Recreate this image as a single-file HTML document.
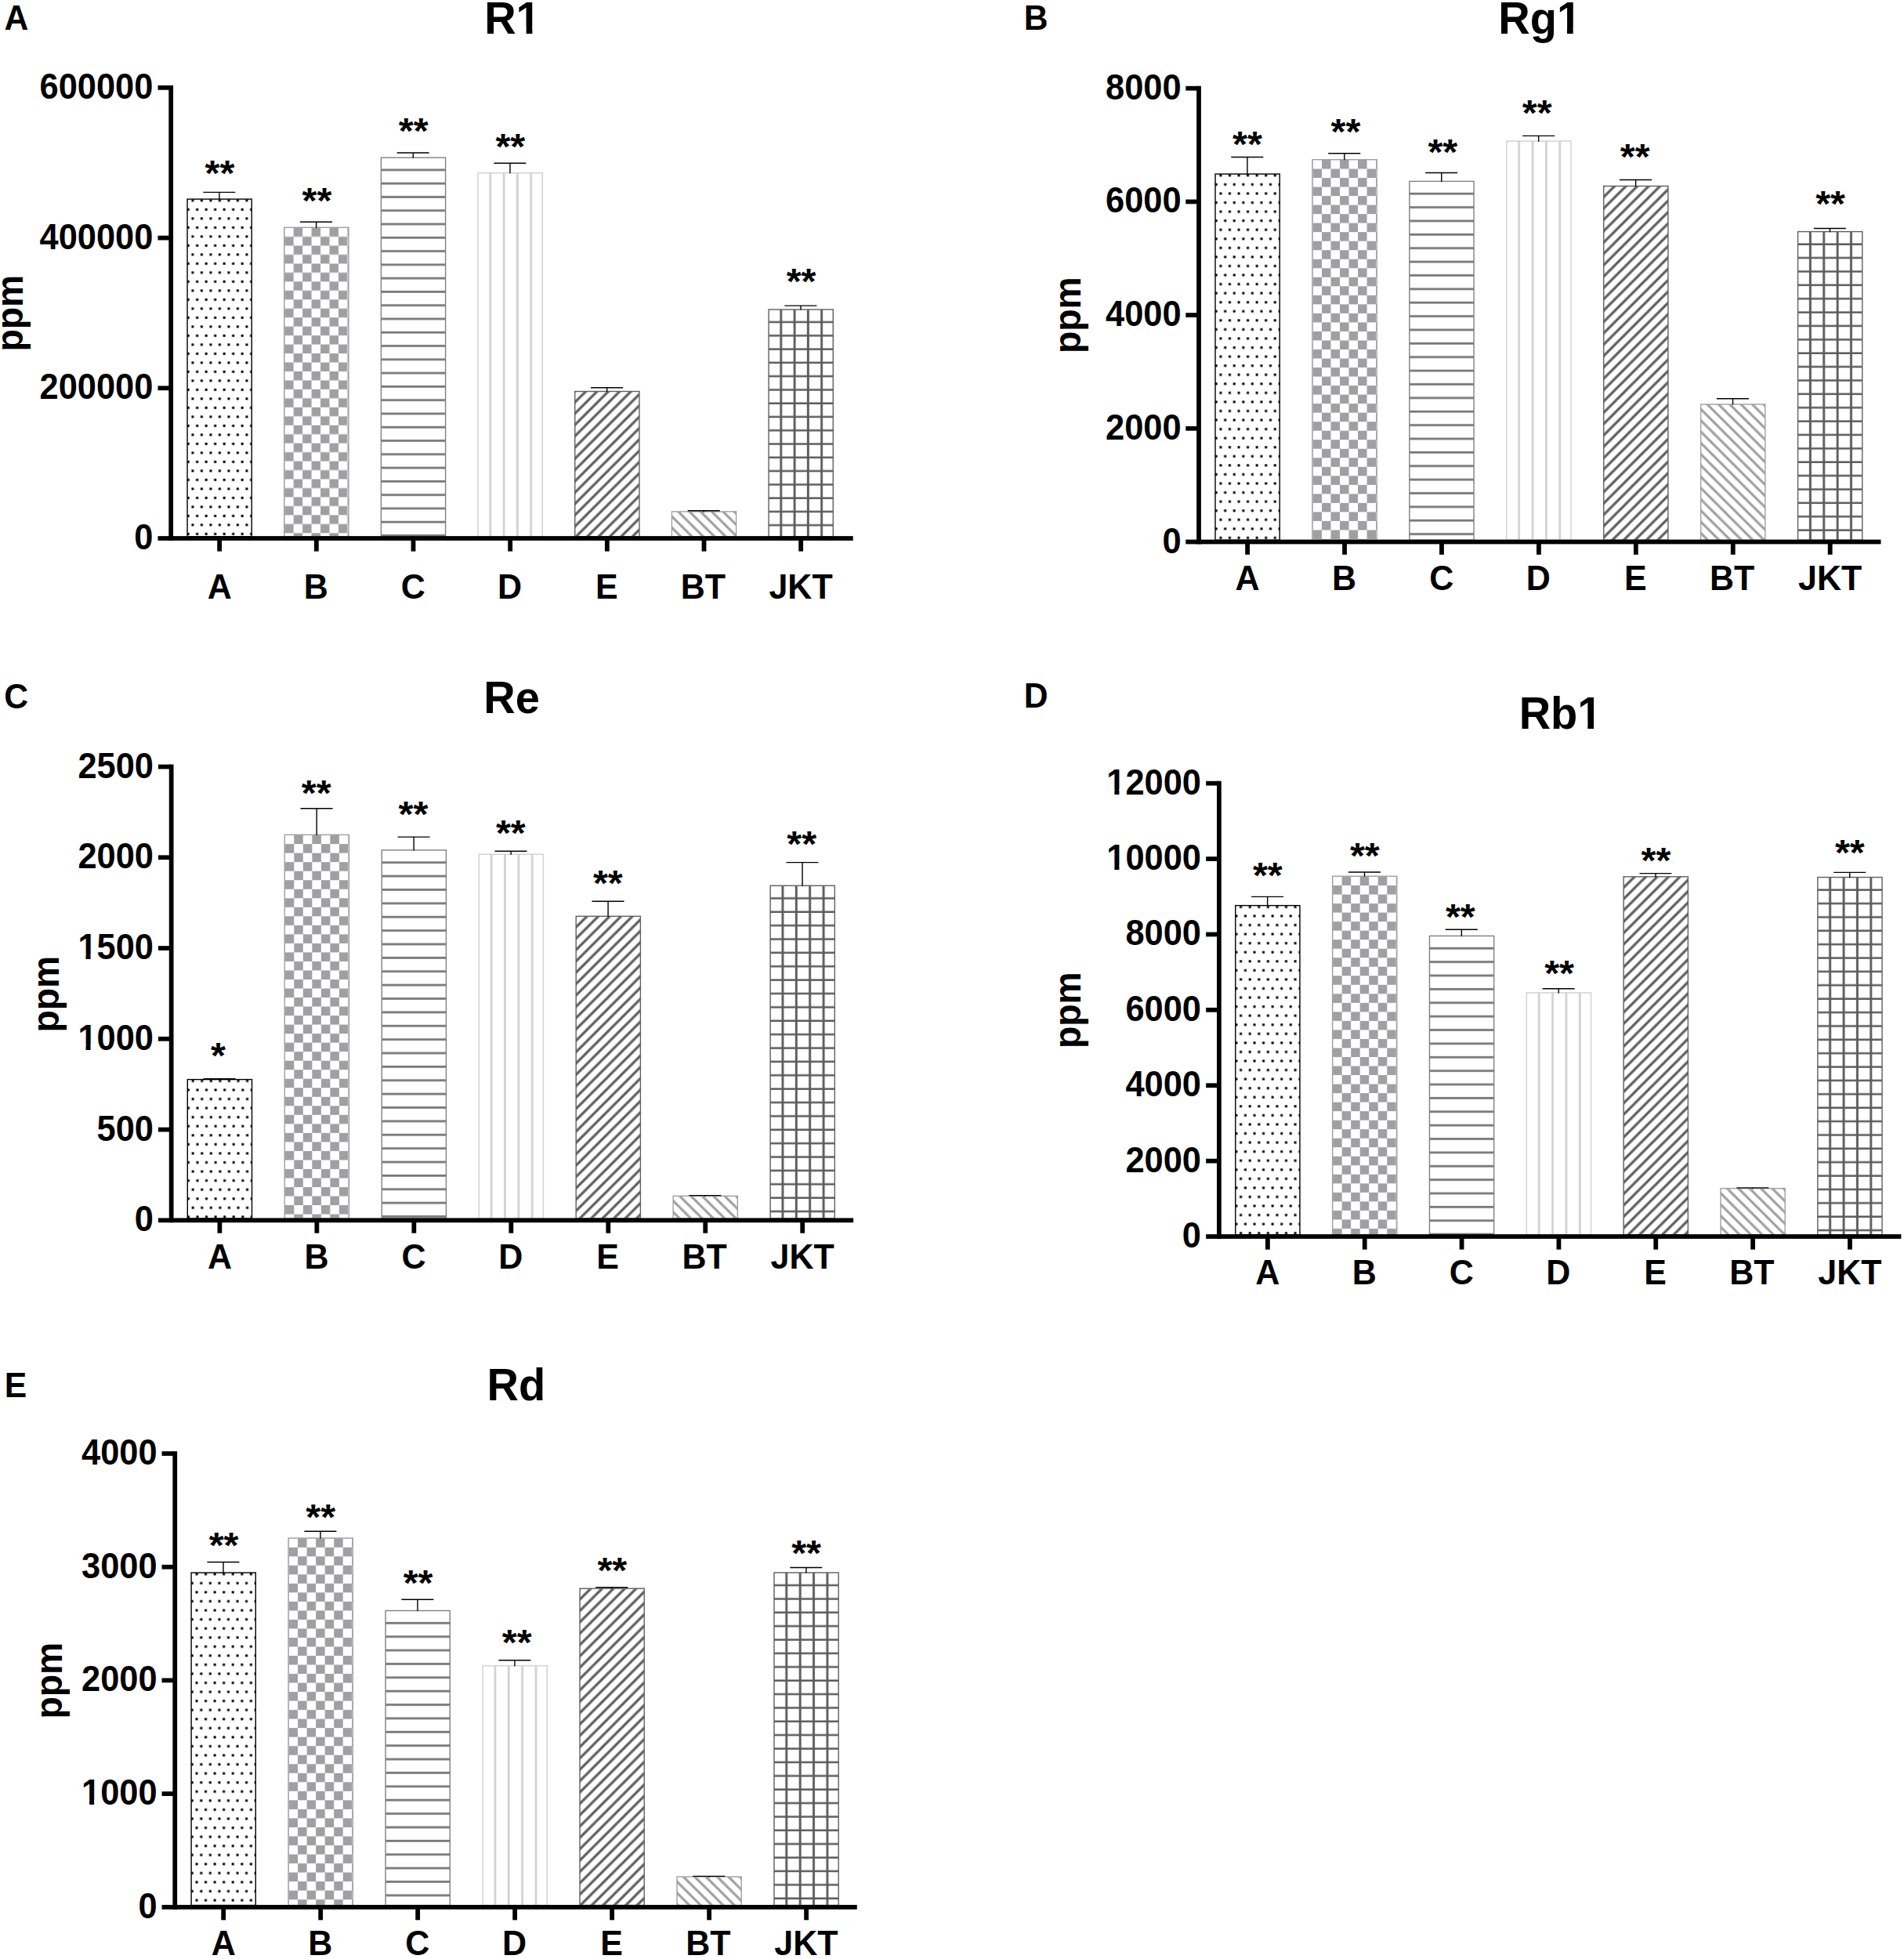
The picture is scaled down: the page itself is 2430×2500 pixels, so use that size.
<!DOCTYPE html>
<html lang="en"><head><meta charset="utf-8"><title>Ginsenoside content (ppm) by sample</title>
<style>html,body{margin:0;padding:0;background:#fff}svg{display:block}</style></head>
<body>
<svg width="2430" height="2500" viewBox="0 0 2430 2500">
<rect width="2430" height="2500" fill="#fff"/>
<defs>
<pattern id="p1" patternUnits="userSpaceOnUse" patternTransform="scale(1.0)" x="239.050" y="254.100" width="11.5" height="23.0"><rect x="5.35" y="0.30" width="3" height="3" fill="#000"/><rect x="-0.40" y="11.80" width="3" height="3" fill="#000"/><rect x="11.10" y="11.80" width="3" height="3" fill="#000"/></pattern>
<pattern id="p2" patternUnits="userSpaceOnUse" patternTransform="scale(1.0)" x="363.220" y="290.600" width="22.92" height="22.92"><rect x="11.46" y="0" width="11.46" height="11.46" fill="#a09fa4"/><rect x="0" y="11.46" width="11.46" height="11.46" fill="#a09fa4"/></pattern>
<pattern id="p3" patternUnits="userSpaceOnUse" patternTransform="scale(1.0)" x="486.390" y="201.150" width="17.28" height="17.28"><rect x="0" y="14.30" width="17.28" height="2.8" fill="#787878"/></pattern>
<pattern id="p4" patternUnits="userSpaceOnUse" patternTransform="scale(1.0)" x="610.060" y="220.750" width="17.28" height="17.28"><rect x="14.35" y="0" width="2.8" height="17.28" fill="#d2d2d2"/></pattern>
<pattern id="p5" patternUnits="userSpaceOnUse" patternTransform="scale(1.0)" x="733.730" y="499.500" width="14.4" height="14.4"><path d="M-14.90,28.80 L28.30,-14.40 M-0.50,28.80 L42.70,-14.40 M-29.30,28.80 L13.90,-14.40" stroke="#626262" stroke-width="3.3" fill="none"/></pattern>
<pattern id="p6" patternUnits="userSpaceOnUse" patternTransform="scale(1.0)" x="857.400" y="652.900" width="14.3" height="14.3"><path d="M-6.05,-14.30 L36.85,28.60 M-20.35,-14.30 L22.55,28.60 M8.25,-14.30 L51.15,28.60" stroke="#a09fa4" stroke-width="3.1" fill="none"/></pattern>
<pattern id="p7" patternUnits="userSpaceOnUse" patternTransform="scale(1.0)" x="981.070" y="395.000" width="17.28" height="17.28"><rect x="14.25" y="0" width="2.9" height="17.28" fill="#5c5c5c"/><rect x="0" y="14.80" width="17.28" height="2.9" fill="#5c5c5c"/></pattern>
<pattern id="p8" patternUnits="userSpaceOnUse" patternTransform="scale(1.0055)" x="1542.516" y="220.835" width="11.5" height="23.0"><rect x="5.35" y="0.30" width="3" height="3" fill="#000"/><rect x="-0.40" y="11.80" width="3" height="3" fill="#000"/><rect x="11.10" y="11.80" width="3" height="3" fill="#000"/></pattern>
<pattern id="p9" patternUnits="userSpaceOnUse" patternTransform="scale(1.0055)" x="1666.266" y="202.884" width="22.92" height="22.92"><rect x="11.46" y="0" width="11.46" height="11.46" fill="#a09fa4"/><rect x="0" y="11.46" width="11.46" height="11.46" fill="#a09fa4"/></pattern>
<pattern id="p10" patternUnits="userSpaceOnUse" patternTransform="scale(1.0055)" x="1789.020" y="230.134" width="17.28" height="17.28"><rect x="0" y="14.30" width="17.28" height="2.8" fill="#787878"/></pattern>
<pattern id="p11" patternUnits="userSpaceOnUse" patternTransform="scale(1.0055)" x="1912.273" y="179.115" width="17.28" height="17.28"><rect x="14.35" y="0" width="2.8" height="17.28" fill="#d2d2d2"/></pattern>
<pattern id="p12" patternUnits="userSpaceOnUse" patternTransform="scale(1.0055)" x="2035.525" y="236.201" width="14.4" height="14.4"><path d="M-14.90,28.80 L28.30,-14.40 M-0.50,28.80 L42.70,-14.40 M-29.30,28.80 L13.90,-14.40" stroke="#626262" stroke-width="3.3" fill="none"/></pattern>
<pattern id="p13" patternUnits="userSpaceOnUse" patternTransform="scale(1.0055)" x="2158.777" y="513.178" width="14.3" height="14.3"><path d="M-6.05,-14.30 L36.85,28.60 M-20.35,-14.30 L22.55,28.60 M8.25,-14.30 L51.15,28.60" stroke="#a09fa4" stroke-width="3.1" fill="none"/></pattern>
<pattern id="p14" patternUnits="userSpaceOnUse" patternTransform="scale(1.0055)" x="2282.029" y="293.983" width="17.28" height="17.28"><rect x="14.25" y="0" width="2.9" height="17.28" fill="#5c5c5c"/><rect x="0" y="14.80" width="17.28" height="2.9" fill="#5c5c5c"/></pattern>
<pattern id="p15" patternUnits="userSpaceOnUse" patternTransform="scale(1.0055)" x="237.991" y="1370.065" width="11.5" height="23.0"><rect x="5.35" y="0.30" width="3" height="3" fill="#000"/><rect x="-0.40" y="11.80" width="3" height="3" fill="#000"/><rect x="11.10" y="11.80" width="3" height="3" fill="#000"/></pattern>
<pattern id="p16" patternUnits="userSpaceOnUse" patternTransform="scale(1.0055)" x="361.780" y="1059.771" width="22.92" height="22.92"><rect x="11.46" y="0" width="11.46" height="11.46" fill="#a09fa4"/><rect x="0" y="11.46" width="11.46" height="11.46" fill="#a09fa4"/></pattern>
<pattern id="p17" patternUnits="userSpaceOnUse" patternTransform="scale(1.0055)" x="484.575" y="1078.966" width="17.28" height="17.28"><rect x="0" y="14.30" width="17.28" height="2.8" fill="#787878"/></pattern>
<pattern id="p18" patternUnits="userSpaceOnUse" patternTransform="scale(1.0055)" x="607.867" y="1084.237" width="17.28" height="17.28"><rect x="14.35" y="0" width="2.8" height="17.28" fill="#d2d2d2"/></pattern>
<pattern id="p19" patternUnits="userSpaceOnUse" patternTransform="scale(1.0055)" x="731.159" y="1162.904" width="14.4" height="14.4"><path d="M-14.90,28.80 L28.30,-14.40 M-0.50,28.80 L42.70,-14.40 M-29.30,28.80 L13.90,-14.40" stroke="#626262" stroke-width="3.3" fill="none"/></pattern>
<pattern id="p20" patternUnits="userSpaceOnUse" patternTransform="scale(1.0055)" x="854.451" y="1517.951" width="14.3" height="14.3"><path d="M-6.05,-14.30 L36.85,28.60 M-20.35,-14.30 L22.55,28.60 M8.25,-14.30 L51.15,28.60" stroke="#a09fa4" stroke-width="3.1" fill="none"/></pattern>
<pattern id="p21" patternUnits="userSpaceOnUse" patternTransform="scale(1.0055)" x="977.742" y="1124.068" width="17.28" height="17.28"><rect x="14.25" y="0" width="2.9" height="17.28" fill="#5c5c5c"/><rect x="0" y="14.80" width="17.28" height="2.9" fill="#5c5c5c"/></pattern>
<pattern id="p22" patternUnits="userSpaceOnUse" patternTransform="scale(1.0055)" x="1568.135" y="1149.279" width="11.5" height="23.0"><rect x="5.35" y="0.30" width="3" height="3" fill="#000"/><rect x="-0.40" y="11.80" width="3" height="3" fill="#000"/><rect x="11.10" y="11.80" width="3" height="3" fill="#000"/></pattern>
<pattern id="p23" patternUnits="userSpaceOnUse" patternTransform="scale(1.0055)" x="1691.805" y="1112.382" width="22.92" height="22.92"><rect x="11.46" y="0" width="11.46" height="11.46" fill="#a09fa4"/><rect x="0" y="11.46" width="11.46" height="11.46" fill="#a09fa4"/></pattern>
<pattern id="p24" patternUnits="userSpaceOnUse" patternTransform="scale(1.0055)" x="1814.480" y="1187.867" width="17.28" height="17.28"><rect x="0" y="14.30" width="17.28" height="2.8" fill="#787878"/></pattern>
<pattern id="p25" patternUnits="userSpaceOnUse" patternTransform="scale(1.0055)" x="1937.653" y="1259.970" width="17.28" height="17.28"><rect x="14.35" y="0" width="2.8" height="17.28" fill="#d2d2d2"/></pattern>
<pattern id="p26" patternUnits="userSpaceOnUse" patternTransform="scale(1.0055)" x="2060.825" y="1112.680" width="14.4" height="14.4"><path d="M-14.90,28.80 L28.30,-14.40 M-0.50,28.80 L42.70,-14.40 M-29.30,28.80 L13.90,-14.40" stroke="#626262" stroke-width="3.3" fill="none"/></pattern>
<pattern id="p27" patternUnits="userSpaceOnUse" patternTransform="scale(1.0055)" x="2183.998" y="1508.304" width="14.3" height="14.3"><path d="M-6.05,-14.30 L36.85,28.60 M-20.35,-14.30 L22.55,28.60 M8.25,-14.30 L51.15,28.60" stroke="#a09fa4" stroke-width="3.1" fill="none"/></pattern>
<pattern id="p28" patternUnits="userSpaceOnUse" patternTransform="scale(1.0055)" x="2307.171" y="1113.426" width="17.28" height="17.28"><rect x="14.25" y="0" width="2.9" height="17.28" fill="#5c5c5c"/><rect x="0" y="14.80" width="17.28" height="2.9" fill="#5c5c5c"/></pattern>
<pattern id="p29" patternUnits="userSpaceOnUse" patternTransform="scale(1.0055)" x="242.765" y="1996.022" width="11.5" height="23.0"><rect x="5.35" y="0.30" width="3" height="3" fill="#000"/><rect x="-0.40" y="11.80" width="3" height="3" fill="#000"/><rect x="11.10" y="11.80" width="3" height="3" fill="#000"/></pattern>
<pattern id="p30" patternUnits="userSpaceOnUse" patternTransform="scale(1.0055)" x="366.564" y="1952.461" width="22.92" height="22.92"><rect x="11.46" y="0" width="11.46" height="11.46" fill="#a09fa4"/><rect x="0" y="11.46" width="11.46" height="11.46" fill="#a09fa4"/></pattern>
<pattern id="p31" patternUnits="userSpaceOnUse" patternTransform="scale(1.0055)" x="489.368" y="2044.257" width="17.28" height="17.28"><rect x="0" y="14.30" width="17.28" height="2.8" fill="#787878"/></pattern>
<pattern id="p32" patternUnits="userSpaceOnUse" patternTransform="scale(1.0055)" x="612.670" y="2114.172" width="17.28" height="17.28"><rect x="14.35" y="0" width="2.8" height="17.28" fill="#d2d2d2"/></pattern>
<pattern id="p33" patternUnits="userSpaceOnUse" patternTransform="scale(1.0055)" x="735.972" y="2016.111" width="14.4" height="14.4"><path d="M-14.90,28.80 L28.30,-14.40 M-0.50,28.80 L42.70,-14.40 M-29.30,28.80 L13.90,-14.40" stroke="#626262" stroke-width="3.3" fill="none"/></pattern>
<pattern id="p34" patternUnits="userSpaceOnUse" patternTransform="scale(1.0055)" x="859.274" y="2381.999" width="14.3" height="14.3"><path d="M-6.05,-14.30 L36.85,28.60 M-20.35,-14.30 L22.55,28.60 M8.25,-14.30 L51.15,28.60" stroke="#a09fa4" stroke-width="3.1" fill="none"/></pattern>
<pattern id="p35" patternUnits="userSpaceOnUse" patternTransform="scale(1.0055)" x="982.576" y="1995.972" width="17.28" height="17.28"><rect x="14.25" y="0" width="2.9" height="17.28" fill="#5c5c5c"/><rect x="0" y="14.80" width="17.28" height="2.9" fill="#5c5c5c"/></pattern>
</defs>
<g font-family="Liberation Sans, Arial, Helvetica, sans-serif" font-weight="bold" fill="#000" style="font-kerning:none">
<text transform="translate(5.54,37.80) scale(1,1.045)" font-size="42.7" >A</text>
<g transform="translate(618.15,43.10) scale(1,1.04)"><text font-size="56.0" >R1</text><rect x="41.56" y="-7.56" width="11.90" height="8.40" fill="#fff"/><rect x="61.25" y="-7.56" width="10.11" height="8.40" fill="#fff"/></g>
<rect x="239.05" y="254.10" width="82.2" height="430.62" fill="url(#p1)" stroke="#000" stroke-width="1.4"/>
<path d="M259.35,245.35 H300.35 M279.95,245.35 V254.70" stroke="#000" stroke-width="1.4" fill="none"/>
<text transform="translate(261.54,236.70) scale(1,0.945)" font-size="48.6" >**</text>
<rect x="277.25" y="687.00" width="5.8" height="16.60"/>
<text transform="translate(264.65,764.00) scale(1,1.035)" font-size="43.0" >A</text>
<rect x="362.72" y="290.30" width="82.2" height="394.43" fill="url(#p2)" stroke="#a09fa4" stroke-width="1.4"/>
<path d="M383.02,283.20 H424.02 M403.62,283.20 V290.90" stroke="#000" stroke-width="1.4" fill="none"/>
<text transform="translate(385.54,272.00) scale(1,0.945)" font-size="48.6" >**</text>
<rect x="400.92" y="687.00" width="5.8" height="16.60"/>
<text transform="translate(387.83,764.00) scale(1,1.035)" font-size="43.0" >B</text>
<rect x="486.39" y="201.15" width="82.2" height="483.58" fill="url(#p3)" stroke="#808080" stroke-width="1.4"/>
<path d="M506.69,195.00 H547.69 M527.29,195.00 V201.75" stroke="#000" stroke-width="1.4" fill="none"/>
<text transform="translate(508.84,183.20) scale(1,0.945)" font-size="48.6" >**</text>
<rect x="524.59" y="687.00" width="5.8" height="16.60"/>
<text transform="translate(511.67,764.00) scale(1,1.035)" font-size="43.0" >C</text>
<rect x="610.06" y="220.75" width="82.2" height="463.98" fill="url(#p4)" stroke="#d0d0d0" stroke-width="1.4"/>
<path d="M630.36,208.30 H671.36 M650.96,208.30 V221.35" stroke="#000" stroke-width="1.4" fill="none"/>
<text transform="translate(632.44,202.70) scale(1,0.945)" font-size="48.6" >**</text>
<rect x="648.26" y="687.00" width="5.8" height="16.60"/>
<text transform="translate(635.10,764.00) scale(1,1.035)" font-size="43.0" >D</text>
<rect x="733.73" y="499.50" width="82.2" height="185.23" fill="url(#p5)" stroke="#606060" stroke-width="1.4"/>
<path d="M754.03,494.70 H795.03 M774.63,494.70 V500.10" stroke="#000" stroke-width="1.4" fill="none"/>
<rect x="771.93" y="687.00" width="5.8" height="16.60"/>
<text transform="translate(759.89,764.00) scale(1,1.035)" font-size="43.0" >E</text>
<rect x="857.40" y="652.90" width="82.2" height="31.83" fill="url(#p6)" stroke="#a09fa4" stroke-width="1.4"/>
<path d="M877.70,651.80 H918.70 M898.30,651.80 V653.50" stroke="#000" stroke-width="1.4" fill="none"/>
<rect x="895.60" y="687.00" width="5.8" height="16.60"/>
<text transform="translate(868.63,764.00) scale(1,1.035)" font-size="43.0" >BT</text>
<rect x="981.07" y="395.00" width="82.2" height="289.73" fill="url(#p7)" stroke="#606060" stroke-width="1.4"/>
<path d="M1001.37,390.10 H1042.37 M1021.97,390.10 V395.60" stroke="#000" stroke-width="1.4" fill="none"/>
<text transform="translate(1003.64,374.60) scale(1,0.945)" font-size="48.6" >**</text>
<rect x="1019.27" y="687.00" width="5.8" height="16.60"/>
<g transform="translate(981.46,764.00) scale(1,1.035)"><text font-size="43.0" >JKT</text><rect x="7.74" y="-30.53" width="7.03" height="5.93" fill="#fff"/></g>
<rect x="215.32" y="109.03" width="5.75" height="580.85"/>
<rect x="201.50" y="684.12" width="887.20" height="5.75"/>
<text transform="translate(171.24,701.03) scale(1,1.06)" font-size="43.4" >0</text>
<rect x="201.50" y="492.42" width="16.70" height="5.75"/>
<text transform="translate(50.56,509.33) scale(1,1.06)" font-size="43.4" >200000</text>
<rect x="201.50" y="300.72" width="16.70" height="5.75"/>
<text transform="translate(50.56,317.63) scale(1,1.06)" font-size="43.4" >400000</text>
<rect x="201.50" y="109.02" width="16.70" height="5.75"/>
<text transform="translate(50.56,125.93) scale(1,1.06)" font-size="43.4" >600000</text>
<text transform="translate(29.10,448.46) rotate(-90) scale(1,1.03)" font-size="46.3">ppm</text>
</g>
<g font-family="Liberation Sans, Arial, Helvetica, sans-serif" font-weight="bold" fill="#000" style="font-kerning:none">
<text transform="translate(1306.64,37.80) scale(1,1.045)" font-size="42.7" >B</text>
<g transform="translate(1912.25,43.30) scale(1,1.04)"><text font-size="56.0" >Rg1</text><rect x="75.77" y="-7.56" width="11.90" height="8.40" fill="#fff"/><rect x="95.45" y="-7.56" width="10.11" height="8.40" fill="#fff"/></g>
<rect x="1551.00" y="222.05" width="82.2" height="467.18" fill="url(#p8)" stroke="#000" stroke-width="1.4"/>
<path d="M1571.30,200.55 H1612.30 M1591.90,200.55 V222.65" stroke="#000" stroke-width="1.4" fill="none"/>
<text transform="translate(1572.99,200.30) scale(1,0.945)" font-size="48.6" >**</text>
<rect x="1589.20" y="691.50" width="5.8" height="16.30"/>
<text transform="translate(1576.60,753.00) scale(1,1.035)" font-size="43.0" >A</text>
<rect x="1674.93" y="203.70" width="82.2" height="485.53" fill="url(#p9)" stroke="#a09fa4" stroke-width="1.4"/>
<path d="M1695.23,195.70 H1736.23 M1715.83,195.70 V204.30" stroke="#000" stroke-width="1.4" fill="none"/>
<text transform="translate(1698.59,183.60) scale(1,0.945)" font-size="48.6" >**</text>
<rect x="1713.13" y="691.50" width="5.8" height="16.30"/>
<text transform="translate(1700.04,753.00) scale(1,1.035)" font-size="43.0" >B</text>
<rect x="1798.86" y="231.40" width="82.2" height="457.83" fill="url(#p10)" stroke="#808080" stroke-width="1.4"/>
<path d="M1819.16,220.50 H1860.16 M1839.76,220.50 V232.00" stroke="#000" stroke-width="1.4" fill="none"/>
<text transform="translate(1822.44,209.60) scale(1,0.945)" font-size="48.6" >**</text>
<rect x="1837.06" y="691.50" width="5.8" height="16.30"/>
<text transform="translate(1824.14,753.00) scale(1,1.035)" font-size="43.0" >C</text>
<rect x="1922.79" y="180.10" width="82.2" height="509.12" fill="url(#p11)" stroke="#d0d0d0" stroke-width="1.4"/>
<path d="M1943.09,173.40 H1984.09 M1963.69,173.40 V180.70" stroke="#000" stroke-width="1.4" fill="none"/>
<text transform="translate(1942.74,160.10) scale(1,0.945)" font-size="48.6" >**</text>
<rect x="1960.99" y="691.50" width="5.8" height="16.30"/>
<text transform="translate(1947.83,753.00) scale(1,1.035)" font-size="43.0" >D</text>
<rect x="2046.72" y="237.50" width="82.2" height="451.73" fill="url(#p12)" stroke="#606060" stroke-width="1.4"/>
<path d="M2067.02,229.50 H2108.02 M2087.62,229.50 V238.10" stroke="#000" stroke-width="1.4" fill="none"/>
<text transform="translate(2067.84,216.10) scale(1,0.945)" font-size="48.6" >**</text>
<rect x="2084.92" y="691.50" width="5.8" height="16.30"/>
<text transform="translate(2072.88,753.00) scale(1,1.035)" font-size="43.0" >E</text>
<rect x="2170.65" y="516.00" width="82.2" height="173.23" fill="url(#p13)" stroke="#a09fa4" stroke-width="1.4"/>
<path d="M2190.95,508.70 H2231.95 M2211.55,508.70 V516.60" stroke="#000" stroke-width="1.4" fill="none"/>
<rect x="2208.85" y="691.50" width="5.8" height="16.30"/>
<text transform="translate(2181.88,753.00) scale(1,1.035)" font-size="43.0" >BT</text>
<rect x="2294.58" y="295.60" width="82.2" height="393.62" fill="url(#p14)" stroke="#606060" stroke-width="1.4"/>
<path d="M2314.88,291.50 H2355.88 M2335.48,291.50 V296.20" stroke="#000" stroke-width="1.4" fill="none"/>
<text transform="translate(2317.14,275.60) scale(1,0.945)" font-size="48.6" >**</text>
<rect x="2332.78" y="691.50" width="5.8" height="16.30"/>
<g transform="translate(2294.97,753.00) scale(1,1.035)"><text font-size="43.0" >JKT</text><rect x="7.74" y="-30.53" width="7.03" height="5.93" fill="#fff"/></g>
<rect x="1527.12" y="109.83" width="5.75" height="584.55"/>
<rect x="1513.30" y="688.62" width="887.20" height="5.75"/>
<text transform="translate(1483.44,705.53) scale(1,1.06)" font-size="43.4" >0</text>
<rect x="1513.30" y="543.92" width="16.70" height="5.75"/>
<text transform="translate(1411.03,560.83) scale(1,1.06)" font-size="43.4" >2000</text>
<rect x="1513.30" y="399.23" width="16.70" height="5.75"/>
<text transform="translate(1411.03,416.13) scale(1,1.06)" font-size="43.4" >4000</text>
<rect x="1513.30" y="254.53" width="16.70" height="5.75"/>
<text transform="translate(1411.03,271.43) scale(1,1.06)" font-size="43.4" >6000</text>
<rect x="1513.30" y="109.83" width="16.70" height="5.75"/>
<text transform="translate(1411.03,126.73) scale(1,1.06)" font-size="43.4" >8000</text>
<text transform="translate(1379.30,451.06) rotate(-90) scale(1,1.03)" font-size="46.3">ppm</text>
</g>
<g font-family="Liberation Sans, Arial, Helvetica, sans-serif" font-weight="bold" fill="#000" style="font-kerning:none">
<text transform="translate(5.15,903.70) scale(1,1.045)" font-size="42.7" >C</text>
<text transform="translate(617.25,909.50) scale(1,1.04)" font-size="56.0" >Re</text>
<rect x="239.30" y="1377.60" width="82.2" height="177.42" fill="url(#p15)" stroke="#000" stroke-width="1.4"/>
<path d="M259.60,1376.70 H300.60 M280.20,1376.70 V1378.20" stroke="#000" stroke-width="1.4" fill="none"/>
<text transform="translate(269.10,1362.90) scale(1,0.945)" font-size="48.6" >*</text>
<rect x="277.50" y="1557.30" width="5.8" height="16.40"/>
<text transform="translate(264.90,1618.80) scale(1,1.035)" font-size="43.0" >A</text>
<rect x="363.27" y="1065.30" width="82.2" height="489.72" fill="url(#p16)" stroke="#a09fa4" stroke-width="1.4"/>
<path d="M383.57,1031.80 H424.57 M404.17,1031.80 V1065.90" stroke="#000" stroke-width="1.4" fill="none"/>
<text transform="translate(384.84,1027.60) scale(1,0.945)" font-size="48.6" >**</text>
<rect x="401.47" y="1557.30" width="5.8" height="16.40"/>
<text transform="translate(388.38,1618.80) scale(1,1.035)" font-size="43.0" >B</text>
<rect x="487.24" y="1084.90" width="82.2" height="470.12" fill="url(#p17)" stroke="#808080" stroke-width="1.4"/>
<path d="M507.54,1068.10 H548.54 M528.14,1068.10 V1085.50" stroke="#000" stroke-width="1.4" fill="none"/>
<text transform="translate(508.59,1055.00) scale(1,0.945)" font-size="48.6" >**</text>
<rect x="525.44" y="1557.30" width="5.8" height="16.40"/>
<text transform="translate(512.52,1618.80) scale(1,1.035)" font-size="43.0" >C</text>
<rect x="611.21" y="1090.20" width="82.2" height="464.82" fill="url(#p18)" stroke="#d0d0d0" stroke-width="1.4"/>
<path d="M631.51,1086.30 H672.51 M652.11,1086.30 V1090.80" stroke="#000" stroke-width="1.4" fill="none"/>
<text transform="translate(632.89,1078.60) scale(1,0.945)" font-size="48.6" >**</text>
<rect x="649.41" y="1557.30" width="5.8" height="16.40"/>
<text transform="translate(636.25,1618.80) scale(1,1.035)" font-size="43.0" >D</text>
<rect x="735.18" y="1169.30" width="82.2" height="385.72" fill="url(#p19)" stroke="#606060" stroke-width="1.4"/>
<path d="M755.48,1150.30 H796.48 M776.08,1150.30 V1169.90" stroke="#000" stroke-width="1.4" fill="none"/>
<text transform="translate(756.89,1142.60) scale(1,0.945)" font-size="48.6" >**</text>
<rect x="773.38" y="1557.30" width="5.8" height="16.40"/>
<text transform="translate(761.34,1618.80) scale(1,1.035)" font-size="43.0" >E</text>
<rect x="859.15" y="1526.30" width="82.2" height="28.72" fill="url(#p20)" stroke="#a09fa4" stroke-width="1.4"/>
<path d="M879.45,1525.60 H920.45 M900.05,1525.60 V1526.90" stroke="#000" stroke-width="1.4" fill="none"/>
<rect x="897.35" y="1557.30" width="5.8" height="16.40"/>
<text transform="translate(870.38,1618.80) scale(1,1.035)" font-size="43.0" >BT</text>
<rect x="983.12" y="1130.25" width="82.2" height="424.77" fill="url(#p21)" stroke="#606060" stroke-width="1.4"/>
<path d="M1003.42,1100.60 H1044.42 M1024.02,1100.60 V1130.85" stroke="#000" stroke-width="1.4" fill="none"/>
<text transform="translate(1004.29,1092.80) scale(1,0.945)" font-size="48.6" >**</text>
<rect x="1021.32" y="1557.30" width="5.8" height="16.40"/>
<g transform="translate(983.51,1618.80) scale(1,1.035)"><text font-size="43.0" >JKT</text><rect x="7.74" y="-30.53" width="7.03" height="5.93" fill="#fff"/></g>
<rect x="215.78" y="975.62" width="5.75" height="584.55"/>
<rect x="201.95" y="1554.42" width="887.20" height="5.75"/>
<text transform="translate(171.84,1571.33) scale(1,1.06)" font-size="43.4" >0</text>
<rect x="201.95" y="1438.66" width="16.70" height="5.75"/>
<text transform="translate(123.57,1455.57) scale(1,1.06)" font-size="43.4" >500</text>
<rect x="201.95" y="1322.90" width="16.70" height="5.75"/>
<g transform="translate(99.43,1339.81) scale(1,1.06)"><text font-size="43.4" >1000</text><rect x="0.87" y="-5.86" width="9.22" height="6.51" fill="#fff"/><rect x="16.12" y="-5.86" width="7.83" height="6.51" fill="#fff"/></g>
<rect x="201.95" y="1207.14" width="16.70" height="5.75"/>
<g transform="translate(99.43,1224.05) scale(1,1.06)"><text font-size="43.4" >1500</text><rect x="0.87" y="-5.86" width="9.22" height="6.51" fill="#fff"/><rect x="16.12" y="-5.86" width="7.83" height="6.51" fill="#fff"/></g>
<rect x="201.95" y="1091.38" width="16.70" height="5.75"/>
<text transform="translate(99.43,1108.29) scale(1,1.06)" font-size="43.4" >2000</text>
<rect x="201.95" y="975.62" width="16.70" height="5.75"/>
<text transform="translate(99.43,992.53) scale(1,1.06)" font-size="43.4" >2500</text>
<text transform="translate(75.30,1317.56) rotate(-90) scale(1,1.03)" font-size="46.3">ppm</text>
</g>
<g font-family="Liberation Sans, Arial, Helvetica, sans-serif" font-weight="bold" fill="#000" style="font-kerning:none">
<text transform="translate(1306.64,902.50) scale(1,1.045)" font-size="42.7" >D</text>
<g transform="translate(1938.65,930.30) scale(1,1.04)"><text font-size="56.0" >Rb1</text><rect x="75.77" y="-7.56" width="11.90" height="8.40" fill="#fff"/><rect x="95.45" y="-7.56" width="10.11" height="8.40" fill="#fff"/></g>
<rect x="1576.76" y="1155.60" width="82.2" height="420.12" fill="url(#p22)" stroke="#000" stroke-width="1.4"/>
<path d="M1597.06,1144.40 H1638.06 M1617.66,1144.40 V1156.20" stroke="#000" stroke-width="1.4" fill="none"/>
<text transform="translate(1598.94,1133.30) scale(1,0.945)" font-size="48.6" >**</text>
<rect x="1614.96" y="1578.00" width="5.8" height="16.60"/>
<text transform="translate(1602.36,1639.40) scale(1,1.035)" font-size="43.0" >A</text>
<rect x="1700.61" y="1118.20" width="82.2" height="457.52" fill="url(#p23)" stroke="#a09fa4" stroke-width="1.4"/>
<path d="M1720.91,1113.00 H1761.91 M1741.51,1113.00 V1118.80" stroke="#000" stroke-width="1.4" fill="none"/>
<text transform="translate(1722.94,1107.50) scale(1,0.945)" font-size="48.6" >**</text>
<rect x="1738.81" y="1578.00" width="5.8" height="16.60"/>
<text transform="translate(1725.72,1639.40) scale(1,1.035)" font-size="43.0" >B</text>
<rect x="1824.46" y="1194.40" width="82.2" height="381.32" fill="url(#p24)" stroke="#808080" stroke-width="1.4"/>
<path d="M1844.76,1186.30 H1885.76 M1865.36,1186.30 V1195.00" stroke="#000" stroke-width="1.4" fill="none"/>
<text transform="translate(1844.94,1185.50) scale(1,0.945)" font-size="48.6" >**</text>
<rect x="1862.66" y="1578.00" width="5.8" height="16.60"/>
<text transform="translate(1849.74,1639.40) scale(1,1.035)" font-size="43.0" >C</text>
<rect x="1948.31" y="1266.90" width="82.2" height="308.82" fill="url(#p25)" stroke="#d0d0d0" stroke-width="1.4"/>
<path d="M1968.61,1261.70 H2009.61 M1989.21,1261.70 V1267.50" stroke="#000" stroke-width="1.4" fill="none"/>
<text transform="translate(1971.14,1257.50) scale(1,0.945)" font-size="48.6" >**</text>
<rect x="1986.51" y="1578.00" width="5.8" height="16.60"/>
<text transform="translate(1973.35,1639.40) scale(1,1.035)" font-size="43.0" >D</text>
<rect x="2072.16" y="1118.80" width="82.2" height="456.92" fill="url(#p26)" stroke="#606060" stroke-width="1.4"/>
<path d="M2092.46,1114.60 H2133.46 M2113.06,1114.60 V1119.40" stroke="#000" stroke-width="1.4" fill="none"/>
<text transform="translate(2094.49,1114.40) scale(1,0.945)" font-size="48.6" >**</text>
<rect x="2110.36" y="1578.00" width="5.8" height="16.60"/>
<text transform="translate(2098.32,1639.40) scale(1,1.035)" font-size="43.0" >E</text>
<rect x="2196.01" y="1516.60" width="82.2" height="59.12" fill="url(#p27)" stroke="#a09fa4" stroke-width="1.4"/>
<path d="M2216.31,1515.90 H2257.31 M2236.91,1515.90 V1517.20" stroke="#000" stroke-width="1.4" fill="none"/>
<rect x="2234.21" y="1578.00" width="5.8" height="16.60"/>
<text transform="translate(2207.24,1639.40) scale(1,1.035)" font-size="43.0" >BT</text>
<rect x="2319.86" y="1119.55" width="82.2" height="456.17" fill="url(#p28)" stroke="#606060" stroke-width="1.4"/>
<path d="M2340.16,1113.40 H2381.16 M2360.76,1113.40 V1120.15" stroke="#000" stroke-width="1.4" fill="none"/>
<text transform="translate(2341.94,1104.20) scale(1,0.945)" font-size="48.6" >**</text>
<rect x="2358.06" y="1578.00" width="5.8" height="16.60"/>
<g transform="translate(2320.25,1639.40) scale(1,1.035)"><text font-size="43.0" >JKT</text><rect x="7.74" y="-30.53" width="7.03" height="5.93" fill="#fff"/></g>
<rect x="1552.98" y="996.77" width="5.75" height="584.10"/>
<rect x="1539.16" y="1575.12" width="887.20" height="5.75"/>
<text transform="translate(1508.84,1592.03) scale(1,1.06)" font-size="43.4" >0</text>
<rect x="1539.16" y="1478.73" width="16.70" height="5.75"/>
<text transform="translate(1436.43,1495.64) scale(1,1.06)" font-size="43.4" >2000</text>
<rect x="1539.16" y="1382.34" width="16.70" height="5.75"/>
<text transform="translate(1436.43,1399.25) scale(1,1.06)" font-size="43.4" >4000</text>
<rect x="1539.16" y="1285.95" width="16.70" height="5.75"/>
<text transform="translate(1436.43,1302.86) scale(1,1.06)" font-size="43.4" >6000</text>
<rect x="1539.16" y="1189.56" width="16.70" height="5.75"/>
<text transform="translate(1436.43,1206.47) scale(1,1.06)" font-size="43.4" >8000</text>
<rect x="1539.16" y="1093.17" width="16.70" height="5.75"/>
<g transform="translate(1412.30,1110.08) scale(1,1.06)"><text font-size="43.4" >10000</text><rect x="0.87" y="-5.86" width="9.22" height="6.51" fill="#fff"/><rect x="16.12" y="-5.86" width="7.83" height="6.51" fill="#fff"/></g>
<rect x="1539.16" y="996.77" width="16.70" height="5.75"/>
<g transform="translate(1412.30,1013.68) scale(1,1.06)"><text font-size="43.4" >12000</text><rect x="0.87" y="-5.86" width="9.22" height="6.51" fill="#fff"/><rect x="16.12" y="-5.86" width="7.83" height="6.51" fill="#fff"/></g>
<text transform="translate(1379.30,1337.96) rotate(-90) scale(1,1.03)" font-size="46.3">ppm</text>
</g>
<g font-family="Liberation Sans, Arial, Helvetica, sans-serif" font-weight="bold" fill="#000" style="font-kerning:none">
<text transform="translate(5.64,1782.50) scale(1,1.045)" font-size="42.7" >E</text>
<text transform="translate(621.55,1786.60) scale(1,1.04)" font-size="56.0" >Rd</text>
<rect x="244.10" y="2007.00" width="82.2" height="424.53" fill="url(#p29)" stroke="#000" stroke-width="1.4"/>
<path d="M264.40,1993.50 H305.40 M285.00,1993.50 V2007.60" stroke="#000" stroke-width="1.4" fill="none"/>
<text transform="translate(266.64,1987.70) scale(1,0.945)" font-size="48.6" >**</text>
<rect x="282.30" y="2433.80" width="5.8" height="16.50"/>
<text transform="translate(269.70,2495.40) scale(1,1.035)" font-size="43.0" >A</text>
<rect x="368.08" y="1962.90" width="82.2" height="468.62" fill="url(#p30)" stroke="#a09fa4" stroke-width="1.4"/>
<path d="M388.38,1954.30 H429.38 M408.98,1954.30 V1963.50" stroke="#000" stroke-width="1.4" fill="none"/>
<text transform="translate(390.24,1952.20) scale(1,0.945)" font-size="48.6" >**</text>
<rect x="406.28" y="2433.80" width="5.8" height="16.50"/>
<text transform="translate(393.19,2495.40) scale(1,1.035)" font-size="43.0" >B</text>
<rect x="492.06" y="2055.50" width="82.2" height="376.03" fill="url(#p31)" stroke="#808080" stroke-width="1.4"/>
<path d="M512.36,2041.30 H553.36 M532.96,2041.30 V2056.10" stroke="#000" stroke-width="1.4" fill="none"/>
<text transform="translate(514.69,2036.40) scale(1,0.945)" font-size="48.6" >**</text>
<rect x="530.26" y="2433.80" width="5.8" height="16.50"/>
<text transform="translate(517.34,2495.40) scale(1,1.035)" font-size="43.0" >C</text>
<rect x="616.04" y="2125.80" width="82.2" height="305.72" fill="url(#p32)" stroke="#d0d0d0" stroke-width="1.4"/>
<path d="M636.34,2118.80 H677.34 M656.94,2118.80 V2126.40" stroke="#000" stroke-width="1.4" fill="none"/>
<text transform="translate(640.79,2112.00) scale(1,0.945)" font-size="48.6" >**</text>
<rect x="654.24" y="2433.80" width="5.8" height="16.50"/>
<text transform="translate(641.08,2495.40) scale(1,1.035)" font-size="43.0" >D</text>
<rect x="740.02" y="2027.20" width="82.2" height="404.33" fill="url(#p33)" stroke="#606060" stroke-width="1.4"/>
<path d="M760.32,2025.80 H801.32 M780.92,2025.80 V2027.80" stroke="#000" stroke-width="1.4" fill="none"/>
<text transform="translate(762.44,2020.00) scale(1,0.945)" font-size="48.6" >**</text>
<rect x="778.22" y="2433.80" width="5.8" height="16.50"/>
<text transform="translate(766.18,2495.40) scale(1,1.035)" font-size="43.0" >E</text>
<rect x="864.00" y="2395.10" width="82.2" height="36.43" fill="url(#p34)" stroke="#a09fa4" stroke-width="1.4"/>
<path d="M884.30,2394.40 H925.30 M904.90,2394.40 V2395.70" stroke="#000" stroke-width="1.4" fill="none"/>
<rect x="902.20" y="2433.80" width="5.8" height="16.50"/>
<text transform="translate(875.23,2495.40) scale(1,1.035)" font-size="43.0" >BT</text>
<rect x="987.98" y="2006.95" width="82.2" height="424.58" fill="url(#p35)" stroke="#606060" stroke-width="1.4"/>
<path d="M1008.28,2000.50 H1049.28 M1028.88,2000.50 V2007.55" stroke="#000" stroke-width="1.4" fill="none"/>
<text transform="translate(1010.14,1998.00) scale(1,0.945)" font-size="48.6" >**</text>
<rect x="1026.18" y="2433.80" width="5.8" height="16.50"/>
<g transform="translate(988.37,2495.40) scale(1,1.035)"><text font-size="43.0" >JKT</text><rect x="7.74" y="-30.53" width="7.03" height="5.93" fill="#fff"/></g>
<rect x="220.38" y="1852.12" width="5.75" height="584.55"/>
<rect x="206.55" y="2430.93" width="887.20" height="5.75"/>
<text transform="translate(176.44,2447.83) scale(1,1.06)" font-size="43.4" >0</text>
<rect x="206.55" y="2286.23" width="16.70" height="5.75"/>
<g transform="translate(104.03,2303.13) scale(1,1.06)"><text font-size="43.4" >1000</text><rect x="0.87" y="-5.86" width="9.22" height="6.51" fill="#fff"/><rect x="16.12" y="-5.86" width="7.83" height="6.51" fill="#fff"/></g>
<rect x="206.55" y="2141.53" width="16.70" height="5.75"/>
<text transform="translate(104.03,2158.43) scale(1,1.06)" font-size="43.4" >2000</text>
<rect x="206.55" y="1996.83" width="16.70" height="5.75"/>
<text transform="translate(104.03,2013.73) scale(1,1.06)" font-size="43.4" >3000</text>
<rect x="206.55" y="1852.12" width="16.70" height="5.75"/>
<text transform="translate(104.03,1869.03) scale(1,1.06)" font-size="43.4" >4000</text>
<text transform="translate(79.00,2193.56) rotate(-90) scale(1,1.03)" font-size="46.3">ppm</text>
</g>
</svg>
</body></html>
